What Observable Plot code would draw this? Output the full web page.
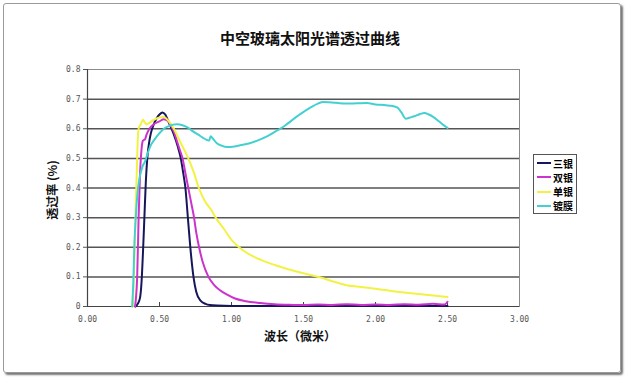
<!DOCTYPE html>
<html><head><meta charset="utf-8">
<script src="https://cdn.jsdelivr.net/npm/d3@7"></script>
<script src="https://cdn.jsdelivr.net/npm/@observablehq/plot@0.6"></script>
<style>
html,body{margin:0;padding:0;background:#fff;}
#wrap{position:relative;width:627px;height:379px;overflow:hidden;font-family:"Noto Sans CJK SC",sans-serif;}
#border{position:absolute;left:3px;top:3px;width:616px;height:368px;border:1px solid #9a9a9a;border-radius:3px;box-shadow:2px 2px 2px #777;}
#chart{position:absolute;left:0;top:0;}
.t{position:absolute;font-weight:700;color:#111;white-space:nowrap;}
#title{left:0;width:620px;top:27px;text-align:center;font-size:15px;}
#xlab{left:0;width:600px;top:327px;text-align:center;font-size:12px;}
#ylab{left:51px;top:190px;font-size:12px;transform:translate(-50%,-50%) rotate(-90deg);}
#legend{position:absolute;left:533px;top:154px;width:42px;height:58px;border:1px solid #555;background:#fff;}
.row{position:absolute;left:3px;height:14px;display:flex;align-items:center;font-size:10px;font-weight:700;}
.sw{width:14px;height:2px;margin-right:2px;}
</style></head>
<body>
<div id="wrap">
  <div id="border"></div>
  <div id="chart"></div>
  <div class="t" id="title">中空玻璃太阳光谱透过曲线</div>
  <div class="t" id="xlab">波长（微米）</div>
  <div class="t" id="ylab">透过率 (%)</div>
  <div id="legend"></div>
</div>
<script>
// series names and colours
const seriesNames = ["三银", "双银", "单银", "镀膜"];
const seriesColors = ["#16165a", "#cc33cc", "#f2f244", "#44d0d0"];

// [wavelength (µm), transmittance]
const sanYin = [[0.333,0],[0.35,0.01],[0.365,0.03],[0.375,0.08],[0.385,0.18],[0.395,0.3],[0.405,0.42],[0.415,0.5],[0.43,0.56],[0.44,0.585],[0.46,0.615],[0.48,0.635],[0.50,0.648],[0.52,0.655],[0.54,0.648],[0.55,0.638],[0.57,0.615],[0.60,0.58],[0.627,0.54],[0.648,0.5],[0.665,0.45],[0.68,0.4],[0.697,0.3],[0.714,0.2],[0.736,0.1],[0.755,0.05],[0.785,0.02],[0.82,0.009],[0.85,0.005],[0.9,0.003],[1.0,0.002],[1.2,0.002],[1.5,0.002],[2.0,0.002],[2.5,0.002]];
const shuangYin = [[0.33,0],[0.345,0.1],[0.355,0.3],[0.365,0.45],[0.375,0.53],[0.385,0.56],[0.40,0.565],[0.41,0.58],[0.43,0.6],[0.46,0.615],[0.50,0.625],[0.53,0.632],[0.56,0.625],[0.58,0.61],[0.60,0.59],[0.62,0.56],[0.64,0.53],[0.66,0.5],[0.68,0.45],[0.70,0.4],[0.72,0.35],[0.74,0.3],[0.755,0.25],[0.775,0.2],[0.80,0.15],[0.84,0.1],[0.88,0.072],[0.92,0.055],[0.97,0.04],[1.02,0.028],[1.1,0.018],[1.2,0.012],[1.3,0.008],[1.4,0.006],[1.5,0.005],[1.6,0.007],[1.7,0.005],[1.8,0.008],[1.9,0.005],[2.0,0.007],[2.1,0.005],[2.2,0.008],[2.3,0.006],[2.4,0.009],[2.48,0.007],[2.5,0.016]];
const danYin = [[0.315,0],[0.325,0.15],[0.335,0.34],[0.342,0.45],[0.348,0.55],[0.355,0.6],[0.37,0.615],[0.385,0.63],[0.40,0.62],[0.41,0.615],[0.43,0.62],[0.46,0.63],[0.50,0.638],[0.53,0.64],[0.56,0.628],[0.60,0.6],[0.63,0.57],[0.66,0.54],[0.70,0.5],[0.74,0.45],[0.773,0.4],[0.82,0.352],[0.86,0.326],[0.89,0.3],[0.95,0.26],[1.0,0.225],[1.04,0.205],[1.1,0.183],[1.2,0.158],[1.3,0.14],[1.4,0.125],[1.5,0.112],[1.62,0.098],[1.7,0.085],[1.8,0.072],[1.9,0.066],[2.0,0.06],[2.1,0.053],[2.2,0.047],[2.3,0.042],[2.4,0.037],[2.5,0.032]];
const duMo = [[0.31,0],[0.318,0.08],[0.325,0.2],[0.335,0.3],[0.347,0.38],[0.36,0.43],[0.38,0.47],[0.40,0.49],[0.42,0.52],[0.44,0.545],[0.46,0.56],[0.50,0.585],[0.53,0.6],[0.57,0.61],[0.62,0.615],[0.66,0.612],[0.70,0.603],[0.73,0.592],[0.77,0.58],[0.80,0.57],[0.83,0.562],[0.845,0.56],[0.855,0.575],[0.87,0.567],[0.9,0.55],[0.93,0.543],[0.97,0.538],[1.02,0.54],[1.06,0.544],[1.12,0.55],[1.18,0.56],[1.25,0.575],[1.32,0.595],[1.37,0.61],[1.41,0.625],[1.48,0.65],[1.55,0.672],[1.60,0.685],[1.64,0.69],[1.70,0.689],[1.75,0.686],[1.80,0.685],[1.87,0.686],[1.94,0.687],[2.00,0.682],[2.06,0.68],[2.10,0.678],[2.15,0.672],[2.18,0.655],[2.21,0.634],[2.24,0.638],[2.27,0.642],[2.31,0.65],[2.34,0.653],[2.37,0.648],[2.40,0.64],[2.44,0.625],[2.47,0.613],[2.5,0.603]];

const xTicks = [0, 0.5, 1, 1.5, 2, 2.5, 3];
const yTicks = [0, 0.1, 0.2, 0.3, 0.4, 0.5, 0.6, 0.7, 0.8];

const allSeries = [sanYin, shuangYin, danYin, duMo];
const rows = allSeries.flatMap((s, i) => s.map(([x, y]) => ({name: seriesNames[i], x, y})));

const mono = "'DejaVu Sans Mono', monospace";
const chart = Plot.plot({
  width: 627, height: 379,
  marginLeft: 87, marginRight: 108, marginTop: 69, marginBottom: 73,
  style: {background: "transparent", overflow: "visible"},
  x: {domain: [0, 3]},
  y: {domain: [0, 0.8]},
  color: {domain: seriesNames, range: seriesColors},
  marks: [
    Plot.frame({stroke: "#8a8a8a", strokeWidth: 1}),
    Plot.ruleY(yTicks.filter(d => d > 0 && d < 0.8), {stroke: "#555", strokeWidth: 1.5}),
    Plot.ruleY([0], {stroke: "#444", strokeWidth: 1.2}),
    Plot.ruleX([0], {stroke: "#444", strokeWidth: 1.2}),
    Plot.ruleX(xTicks.filter(d => d > 0 && d < 3), {x: d => d, y1: 0, y2: 0, insetTop: -4, stroke: "#444"}),
    Plot.axisY({ticks: yTicks, tickSize: 4, tickPadding: 3, tickFormat: d => d === 0 ? "0" : d.toFixed(1), fontSize: 8, fontFamily: mono, color: "#555", label: null}),
    Plot.axisX({ticks: xTicks, tickSize: 0, tickPadding: 10, tickFormat: d => d.toFixed(2), fontSize: 8, fontFamily: mono, color: "#555", label: null}),
    Plot.line(rows, {x: "x", y: "y", z: "name", stroke: "name", strokeWidth: 2, curve: "monotone-x"})
  ]
});
document.getElementById("chart").appendChild(chart);

const leg = document.getElementById("legend");
seriesNames.forEach((n, i) => {
  const r = document.createElement("div");
  r.className = "row";
  r.style.top = (1 + i * 14.3) + "px";
  r.innerHTML = `<span class="sw" style="background:${seriesColors[i]}"></span><span>${n}</span>`;
  leg.appendChild(r);
});
</script>
</body></html>
